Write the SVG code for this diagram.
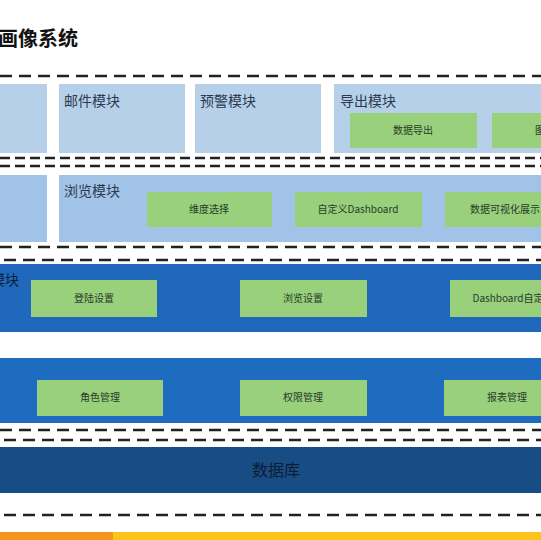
<svg xmlns="http://www.w3.org/2000/svg" width="541" height="540" viewBox="0 0 541 540">
<style>
.t{font-family:"Noto Sans CJK SC","Liberation Sans",sans-serif;}
.title{font-size:20px;font-weight:bold;fill:#111;}
.mod{font-size:14px;fill:#2b3a4e;}
.lbl{font-size:10px;fill:#2a3a2a;text-anchor:middle;}
.lb{fill:#b6d0ea;}
.lb2{fill:#a2c3e8;}
.g{fill:#98d07c;}
.dark{fill:#1f68bb;}
.dash{stroke:#222;stroke-width:2.6;fill:none;stroke-dasharray:12 7;}
.dash2{stroke:#222;stroke-width:2.6;fill:none;stroke-dasharray:10 5;}
</style>
<rect width="541" height="540" fill="#ffffff"/>
<text class="t title" x="-2" y="46">画像系统</text>

<g id="separators">
<line class="dash" x1="0" y1="76" x2="541" y2="76"/>
<line class="dash2" x1="0" y1="158" x2="541" y2="158"/>
<line class="dash2" x1="0" y1="166" x2="541" y2="166"/>
<line class="dash" x1="0" y1="247" x2="541" y2="247"/>
<line class="dash" x1="4" y1="260" x2="541" y2="260"/>
<line class="dash" x1="0" y1="430" x2="541" y2="430"/>
<line class="dash" x1="4" y1="440" x2="541" y2="440"/>
<line class="dash" x1="4" y1="515" x2="541" y2="515"/>
</g>

<g id="row1-left"><rect class="lb" x="0" y="84" width="47" height="69"/></g>
<g id="mail"><rect class="lb" x="59" y="84" width="126" height="69"/><text class="t mod" x="64" y="106">邮件模块</text></g>
<g id="alert"><rect class="lb" x="195" y="84" width="126" height="69"/><text class="t mod" x="200" y="106">预警模块</text></g>
<g id="export"><rect class="lb" x="334" y="84" width="220" height="69"/><text class="t mod" x="340" y="106">导出模块</text>
<rect class="g" x="350" y="113" width="127" height="35"/><text class="t lbl" x="413" y="134">数据导出</text>
<rect class="g" x="492" y="113" width="127" height="35"/><text class="t lbl" x="555" y="134">图表导出</text></g>

<g id="row2-left"><rect class="lb2" x="0" y="175" width="47" height="67"/></g>
<g id="browse"><rect class="lb2" x="59" y="175" width="490" height="67"/><text class="t mod" x="64" y="196">浏览模块</text>
<rect class="g" x="147" y="192" width="125" height="35"/><text class="t lbl" x="209" y="213">维度选择</text>
<rect class="g" x="295" y="192" width="127" height="35"/><text class="t lbl" x="358" y="213">自定义Dashboard</text>
<rect class="g" x="445" y="192" width="120" height="35"/><text class="t lbl" x="505" y="213">数据可视化展示</text></g>

<g id="settings"><rect class="dark" x="0" y="264" width="541" height="68"/><text class="t mod" x="19" y="285" text-anchor="end" fill="#0e1e33" style="fill:#0e1e33">模块</text>
<rect class="g" x="31" y="280" width="126" height="37"/><text class="t lbl" x="94" y="302">登陆设置</text>
<rect class="g" x="240" y="280" width="127" height="37"/><text class="t lbl" x="303" y="302">浏览设置</text>
<rect class="g" x="450" y="280" width="127" height="37"/><text class="t lbl" x="513" y="302">Dashboard自定义</text></g>

<g id="manage"><rect x="0" y="358" width="541" height="65" fill="#1e6cc0"/>
<rect class="g" x="37" y="380" width="126" height="36"/><text class="t lbl" x="100" y="401">角色管理</text>
<rect class="g" x="240" y="380" width="127" height="36"/><text class="t lbl" x="303" y="401">权限管理</text>
<rect class="g" x="444" y="380" width="127" height="36"/><text class="t lbl" x="507" y="401">报表管理</text></g>

<g id="database"><rect x="0" y="447" width="541" height="46" fill="#184c84"/>
<text class="t" x="276" y="476" text-anchor="middle" font-size="16" fill="#0d1c30">数据库</text></g>

<g id="footer"><rect x="0" y="532" width="113" height="8" fill="#f7941d"/><rect x="113" y="532" width="428" height="8" fill="#fcc31a"/></g>
</svg>
